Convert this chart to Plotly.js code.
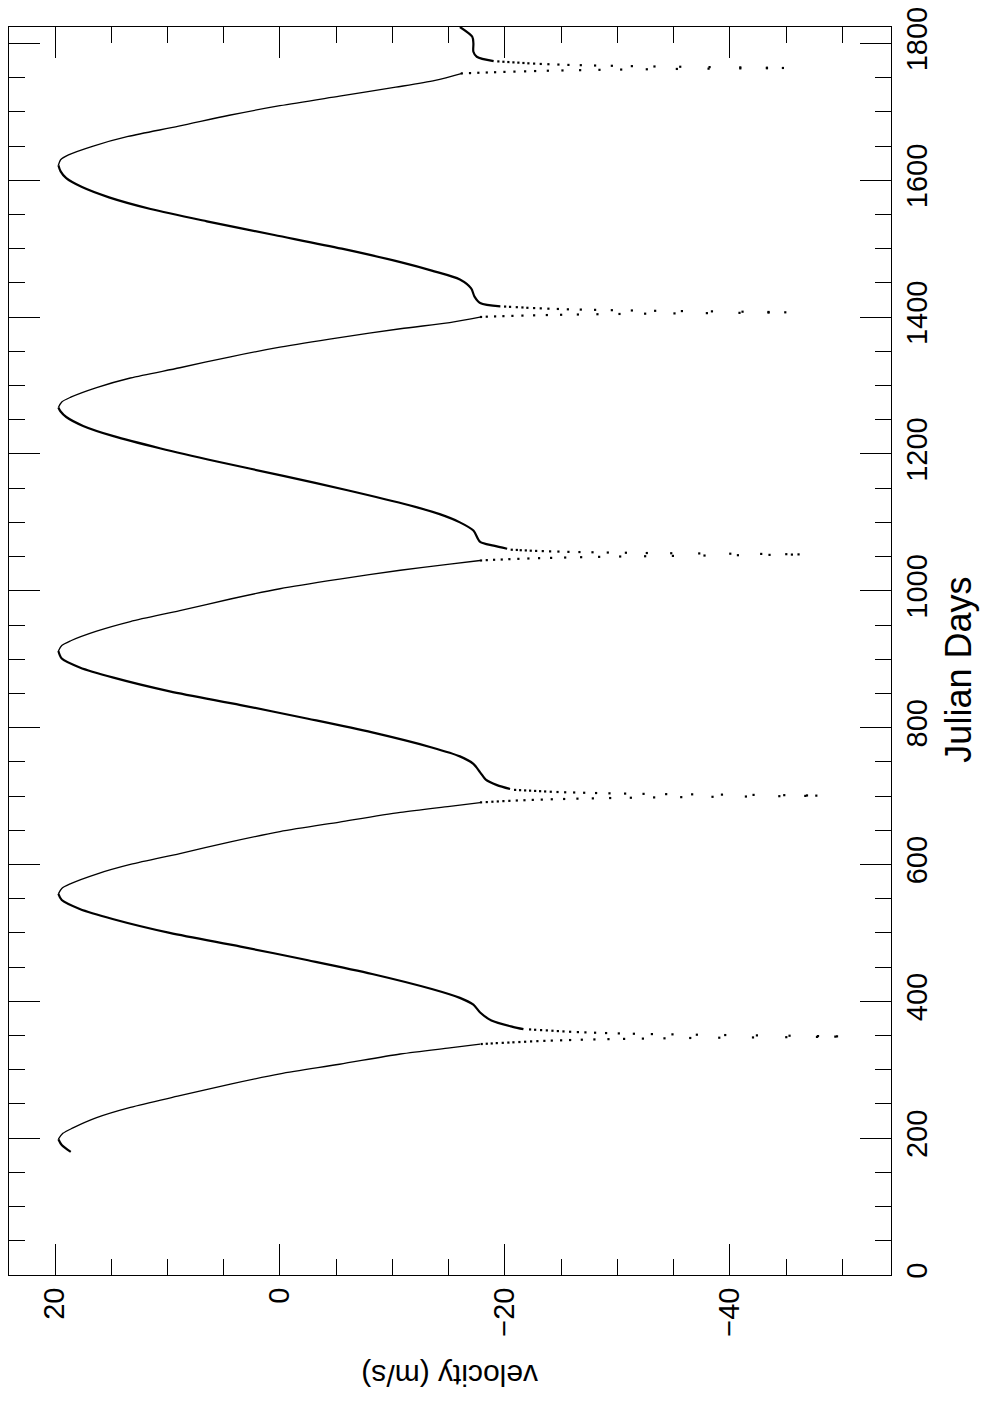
<!DOCTYPE html>
<html>
<head>
<meta charset="utf-8">
<script src="https://cdn.plot.ly/plotly-3.0.1.min.js"></script>
<style>
  html, body { margin: 0; padding: 0; background: #fff; }
  #chart { width: 985px; height: 1401px; }
</style>
</head>
<body>
<div id="chart"></div>
<script>
// Rising parts of the velocity curve (after each periastron, up to the maximum); null separates segments
const risingDays = [
  180, 190, 198.5, null,
  359.3, 362.7, 372, 383.6, 395, 405, 418, 440, 460, 480, 500, 520, 535, 548, 557, null,
  710.4, 716, 724, 734.7, 747, 758, 771, 793, 813, 833, 853, 873, 888, 901, 912, null,
  1061.4, 1066, 1071.4, 1088, 1100, 1112, 1125, 1147, 1168, 1189, 1208, 1226, 1241, 1254, 1262, 1268, null,
  1415.8, 1420.6, 1430, 1442, 1455, 1468, 1480, 1500, 1520, 1540, 1558, 1575, 1590, 1603, 1613, 1622, null,
  1774.1, 1780.5, 1787.8, 1800, 1809.7, 1824
];
const risingVel = [
  18.6, 19.4, 19.7, null,
  -21.65, -20.7, -18.8, -17.8, -17.2, -16.0, -13.5, -8.2, -2.5, 3.5, 9.8, 14.8, 17.8, 19.4, 19.7, null,
  -20.46, -19.3, -18.3, -17.8, -17.2, -16.0, -13.5, -8.2, -2.5, 3.5, 9.8, 14.8, 17.8, 19.4, 19.7, null,
  -20.2, -19.0, -17.8, -17.2, -16.0, -14.2, -11.5, -6.0, -0.3, 5.6, 10.6, 14.8, 17.5, 19.0, 19.5, 19.7, null,
  -19.6, -17.8, -17.3, -17.0, -16.0, -13.5, -10.8, -5.5, 0.5, 6.5, 11.5, 15.2, 17.6, 19.0, 19.5, 19.7, null,
  -19.0, -17.5, -17.2, -17.2, -17.1, -16.0
];

// Falling parts (from each maximum down towards periastron)
const fallingDays = [
  198.5, 207, 215, 230, 245, 262, 279, 294, 308, 323, 332, 337.4, null,
  557, 565, 572, 586, 600, 616, 633, 648, 662, 676, 685, 690.5, null,
  912, 920, 927, 941, 955, 971, 988, 1003, 1017, 1030, 1039, 1044.3, null,
  1268, 1276, 1283, 1297, 1311, 1326, 1342, 1356, 1370, 1383, 1392, 1400.2, null,
  1622, 1630, 1637, 1650, 1664, 1679, 1695, 1709, 1723, 1736, 1746, 1756.2
];
const fallingVel = [
  19.7, 19.3, 18.4, 16.3, 13.3, 8.9, 4.4, 0.0, -5.3, -10.7, -15.1, -17.8, null,
  19.7, 19.4, 18.6, 16.3, 13.3, 8.9, 4.4, 0.0, -5.3, -10.7, -15.1, -17.8, null,
  19.7, 19.4, 18.6, 16.3, 13.3, 8.9, 4.4, 0.0, -5.3, -10.7, -15.1, -17.8, null,
  19.7, 19.4, 18.6, 16.3, 13.3, 8.9, 4.4, 0.0, -5.3, -10.7, -15.1, -17.9, null,
  19.7, 19.5, 18.8, 16.6, 13.5, 9.0, 4.5, 0.0, -5.3, -10.3, -13.8, -16.2
];

// Sparse samples around each periastron passage (the dotted spikes)
const spikeDays = [
  337.6, 338.0, 338.4, 338.9, 339.3, 339.7, 340.1, 340.5, 340.9, 341.4, 341.8, 342.2, 342.6, 343.0, 343.4, 343.9, 344.3, 344.7, 345.1, 345.5, 345.9, 346.4, 346.8, 347.2, 347.6, 348.0, 348.4,
  358.9, 358.4, 357.9, 357.5, 357.0, 356.5, 356.0, 355.5, 355.0, 354.6, 354.1, 353.6, 353.1, 352.6, 352.1, 351.7, 351.2, 350.7, 350.2, 349.7, 349.2, 348.8,
  690.8, 691.2, 691.7, 692.1, 692.6, 693.0, 693.5, 693.9, 694.4, 694.8, 695.3, 695.7, 696.2, 696.6, 697.1, 697.5, 698.0, 698.4, 698.9, 699.3, 699.8, 700.2, 700.6,
  709.0, 708.6, 708.2, 707.9, 707.5, 707.1, 706.7, 706.3, 705.9, 705.5, 705.2, 704.8, 704.4, 704.0, 703.6, 703.2, 702.8, 702.5, 702.1, 701.7, 701.3, 700.9,
  1044.3, 1044.8, 1045.3, 1045.7, 1046.2, 1046.7, 1047.2, 1047.7, 1048.1, 1048.6, 1049.1, 1049.6, 1050.1, 1050.5, 1051.0, 1051.5, 1052.0, 1052.5, 1052.9,
  1060.0, 1059.7, 1059.3, 1059.0, 1058.6, 1058.3, 1058.0, 1057.6, 1057.3, 1056.9, 1056.6, 1056.3, 1055.9, 1055.6, 1055.2, 1054.9, 1054.6, 1054.2, 1053.9, 1053.5, 1053.2,
  1400.2, 1400.6, 1401.0, 1401.4, 1401.8, 1402.2, 1402.6, 1403.0, 1403.4, 1403.8, 1404.2, 1404.6, 1405.0, 1405.4, 1405.8, 1406.2, 1406.6,
  1415.4, 1415.0, 1414.5, 1414.1, 1413.6, 1413.2, 1412.8, 1412.3, 1411.9, 1411.4, 1411.0, 1410.6, 1410.1, 1409.7, 1409.2, 1408.8, 1408.4, 1407.9, 1407.5, 1407.0,
  1756.2, 1756.6, 1757.1, 1757.5, 1757.9, 1758.4, 1758.8, 1759.2, 1759.6, 1760.1, 1760.5, 1760.9, 1761.4, 1761.8, 1762.2, 1762.7, 1763.1, 1763.5, 1763.7,
  1773.7, 1773.2, 1772.8, 1772.3, 1771.9, 1771.4, 1770.9, 1770.5, 1770.0, 1769.6, 1769.1, 1768.6, 1768.2, 1767.7, 1767.3, 1766.8, 1766.3, 1765.9, 1765.4, 1765.0, 1764.5, 1764.1
];
const spikeVel = [
  -17.94, -18.39, -18.83, -19.28, -19.81, -20.31, -20.76, -21.29, -21.80, -22.33, -22.89, -23.51, -24.17, -25.00, -25.80, -26.84, -27.96, -29.21, -30.60, -32.27, -34.19, -36.48, -39.06, -42.06, -45.02, -47.75, -49.38,
  -22.24, -22.69, -23.22, -23.73, -24.23, -24.71, -25.21, -25.80, -26.49, -27.16, -28.02, -29.00, -30.13, -31.47, -33.07, -34.90, -37.07, -39.59, -42.41, -45.31, -47.84, -49.53,
  -17.88, -18.39, -18.89, -19.37, -19.87, -20.40, -21.06, -21.74, -22.48, -23.28, -24.17, -25.27, -26.45, -27.82, -29.36, -31.20, -33.27, -35.68, -38.46, -41.43, -44.40, -46.71, -47.69,
  -20.91, -21.35, -21.80, -22.24, -22.69, -23.13, -23.58, -24.08, -24.68, -25.36, -26.16, -27.05, -28.11, -29.30, -30.69, -32.33, -34.34, -36.65, -39.30, -42.11, -44.84, -46.86,
  -17.88, -18.39, -19.04, -19.72, -20.40, -21.20, -22.09, -23.04, -24.11, -25.36, -26.78, -28.38, -30.25, -32.47, -34.94, -37.75, -40.72, -43.53, -45.52,
  -20.61, -21.06, -21.41, -21.86, -22.30, -22.78, -23.37, -24.02, -24.76, -25.65, -26.63, -27.79, -29.15, -30.76, -32.62, -34.79, -37.28, -40.04, -42.79, -45.02, -46.11,
  -17.88, -18.39, -19.13, -19.87, -20.67, -21.56, -22.60, -23.73, -25.00, -26.49, -28.23, -30.19, -32.47, -35.08, -37.96, -40.86, -43.44,
  -20.02, -20.46, -21.06, -21.56, -22.00, -22.60, -23.19, -23.87, -24.71, -25.60, -26.75, -28.02, -29.51, -31.29, -33.36, -35.74, -38.41, -41.13, -43.44, -44.93,
  -16.17, -16.90, -17.64, -18.39, -19.13, -19.96, -20.85, -21.80, -22.69, -23.82, -25.12, -26.69, -28.41, -30.34, -32.62, -35.29, -38.11, -40.93, -43.30,
  -19.42, -19.87, -20.31, -20.76, -21.20, -21.65, -22.09, -22.60, -23.19, -23.87, -24.76, -25.65, -26.75, -28.02, -29.51, -31.29, -33.30, -35.59, -38.20, -40.93, -43.30, -44.72
];

const velocityTitle = 'velocity (m/s)';
const dayTitle = 'Julian Days';

const FONT = 'Liberation Sans, Arial, Helvetica, sans-serif';

const traces = [
  {
    type: 'scatter', mode: 'lines',
    x: risingVel, y: risingDays,
    line: { color: '#000', width: 2.2, shape: 'spline', smoothing: 0.8 },
    connectgaps: false, hoverinfo: 'skip', showlegend: false
  },
  {
    type: 'scatter', mode: 'lines',
    x: fallingVel, y: fallingDays,
    line: { color: '#000', width: 1.3, shape: 'spline', smoothing: 0.8 },
    connectgaps: false, hoverinfo: 'skip', showlegend: false
  },
  {
    type: 'scatter', mode: 'markers',
    x: spikeVel, y: spikeDays,
    marker: { color: '#000', size: 2.2, symbol: 'square', line: { width: 0 } },
    hoverinfo: 'skip', showlegend: false
  }
];

const axisCommon = {
  showline: true, linecolor: '#000', linewidth: 1, mirror: 'ticks',
  ticks: 'inside', ticklen: 31, tickwidth: 1, tickcolor: '#000',
  tickangle: -90, tickfont: { family: FONT, size: 29, color: '#000' },
  showgrid: false, zeroline: false, autorange: false
};

const layout = {
  width: 985, height: 1401,
  margin: { l: 9, r: 94, t: 27, b: 126, pad: 0 },
  paper_bgcolor: '#fff', plot_bgcolor: '#fff',
  font: { family: FONT, color: '#000' },
  showlegend: false,
  xaxis: Object.assign({}, axisCommon, {
    range: [24.09, -54.33], tick0: 0, dtick: 20,
    minor: { tick0: 0, dtick: 5, ticks: 'inside', ticklen: 16, tickwidth: 1, tickcolor: '#000', showgrid: false }
  }),
  yaxis: Object.assign({}, axisCommon, {
    range: [0, 1824], side: 'right', tick0: 0, dtick: 200,
    minor: { tick0: 0, dtick: 50, ticks: 'inside', ticklen: 16, tickwidth: 1, tickcolor: '#000', showgrid: false }
  }),
  annotations: [
    { text: velocityTitle, xref: 'paper', yref: 'paper', x: 0.5, y: -0.081,
      xanchor: 'center', yanchor: 'middle', textangle: 180, showarrow: false,
      font: { family: FONT, size: 30, color: '#000' } },
    { text: dayTitle, xref: 'paper', yref: 'paper', x: 1.077, y: 0.485,
      xanchor: 'center', yanchor: 'middle', textangle: -90, showarrow: false,
      font: { family: FONT, size: 36, color: '#000' } }
  ]
};

Plotly.newPlot('chart', traces, layout, { staticPlot: true, displayModeBar: false });
</script>
</body>
</html>
